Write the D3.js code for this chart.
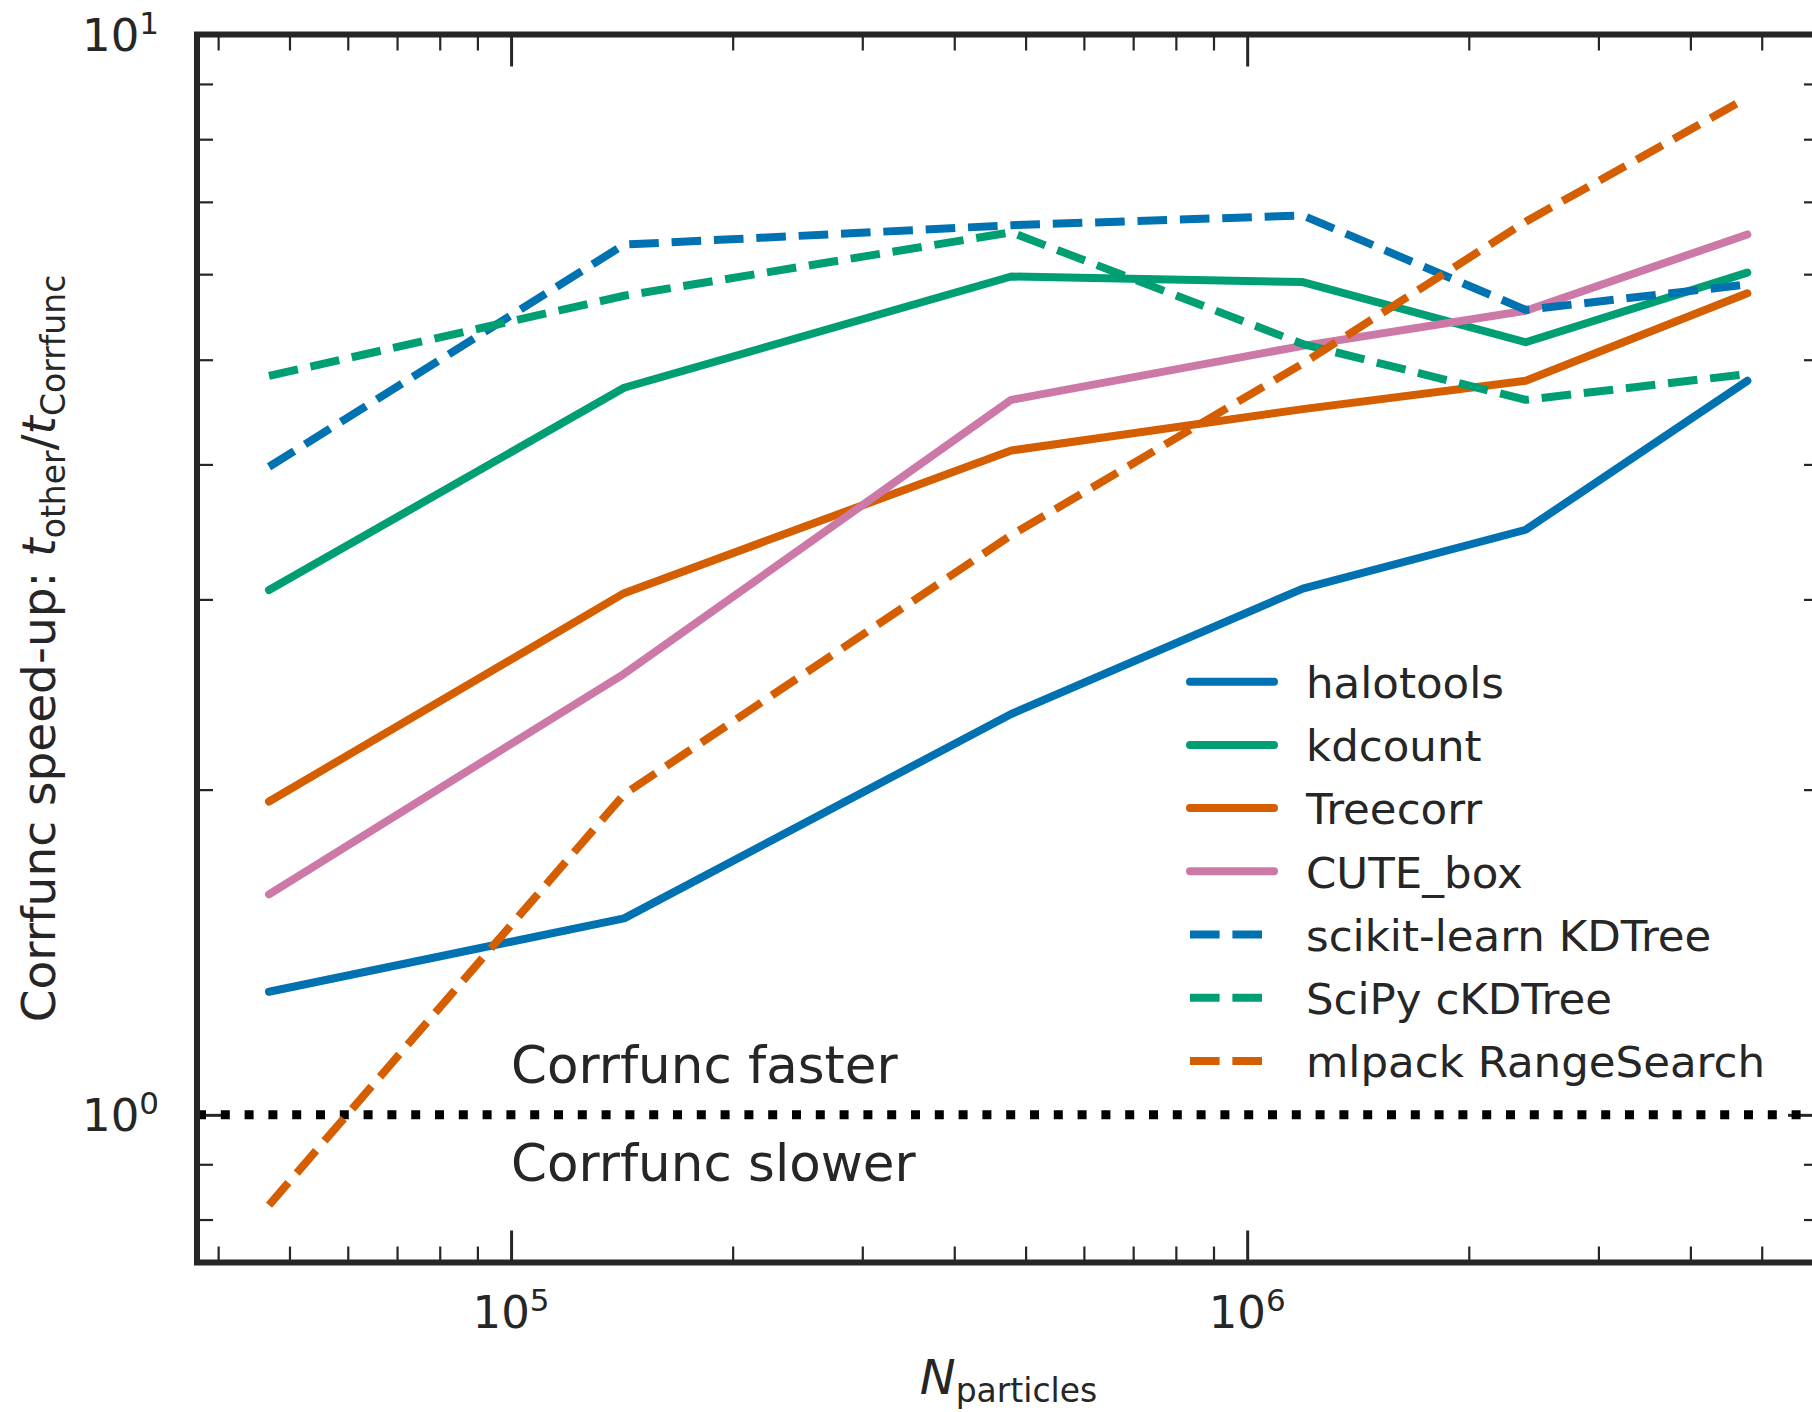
<!DOCTYPE html>
<html>
<head>
<meta charset="utf-8">
<script src="https://cdn.jsdelivr.net/npm/d3@7"></script>
<style>
  body { margin: 0; background: #fff; }
  text { font-family: "DejaVu Sans", sans-serif; fill: #262626; }
</style>
</head>
<body>
<div id="chart"></div>
<script>
// data
var nParticles = [46900, 142400, 478000, 1190000, 2390000, 4780000];
var halotools = [1.30, 1.52, 2.35, 3.07, 3.48, 4.78];
var kdcount   = [3.06, 4.71, 5.97, 5.90, 5.19, 6.02];
var treecorr  = [1.95, 3.04, 4.12, 4.50, 4.78, 5.76];
var cuteBox   = [1.60, 2.56, 4.59, 5.15, 5.55, 6.53];
var sklearnKD = [3.98, 6.39, 6.66, 6.80, 5.56, 5.87];
var scipyKD   = [4.83, 5.73, 6.56, 5.17, 4.59, 4.85];
var mlpack    = [0.825, 1.98, 3.44, 4.96, 6.71, 8.74];

var seriesNames = ["halotools", "kdcount", "Treecorr", "CUTE_box",
                   "scikit-learn KDTree", "SciPy cKDTree", "mlpack RangeSearch"];
var seriesValues = [halotools, kdcount, treecorr, cuteBox, sklearnKD, scipyKD, mlpack];

var xMajor = [1e5, 1e6];
var xMinor = [4e4, 5e4, 6e4, 7e4, 8e4, 9e4, 2e5, 3e5, 4e5, 5e5, 6e5, 7e5, 8e5, 9e5, 2e6, 3e6, 4e6, 5e6];
var yMajor = [1, 10];
var yMinor = [0.8, 0.9, 2, 3, 4, 5, 6, 7, 8, 9];

// styles
var colors = ["#0072B2", "#009E73", "#D55E00", "#CC79A7", "#0072B2", "#009E73", "#D55E00"];
var dashed = [false, false, false, false, true, true, true];
var lw = 8;
var ink = "#262626";

var W = 1812, H = 1412;
var pLeft = 197, pTop = 34.5, pRight = 1820, pBottom = 1262.5;

var svg = d3.select("#chart").append("svg")
    .attr("width", W)
    .attr("height", H);

var x = d3.scaleLog().domain([37440, 6e6]).range([pLeft, pRight]);
var y = d3.scaleLog().domain([0.73, 10]).range([pBottom, pTop]);

// ticks (all pointing inward)
function ticks(axis, tr, vals, size, width) {
  var g = svg.append("g")
    .attr("transform", tr)
    .call(axis.tickValues(vals).tickSize(size).tickFormat(""));
  g.select(".domain").remove();
  g.selectAll(".tick line").attr("stroke", ink).attr("stroke-width", width);
}
ticks(d3.axisBottom(x), "translate(0," + pBottom + ")", xMinor, -16, 2.2);
ticks(d3.axisBottom(x), "translate(0," + pBottom + ")", xMajor, -32, 3);
ticks(d3.axisTop(x), "translate(0," + pTop + ")", xMinor, -16, 2.2);
ticks(d3.axisTop(x), "translate(0," + pTop + ")", xMajor, -32, 3);
ticks(d3.axisLeft(y), "translate(" + pLeft + ",0)", yMinor, -16, 2.2);
ticks(d3.axisLeft(y), "translate(" + pLeft + ",0)", yMajor, -32, 3);
ticks(d3.axisRight(y), "translate(" + pRight + ",0)", yMinor, -16, 2.2);
ticks(d3.axisRight(y), "translate(" + pRight + ",0)", yMajor, -32, 3);

// tick labels 10^n
function powLabel(t, d) {
  t.append("tspan").text("10");
  t.append("tspan").attr("dy", -17).style("font-size", "31px").text(Math.round(Math.log10(d)));
}
svg.selectAll(".xlab")
  .data(xMajor)
  .enter()
  .append("text")
    .attr("x", function(d) { return x(d); })
    .attr("y", pBottom + 65.5)
    .attr("text-anchor", "middle")
    .style("font-size", "45px")
    .each(function(d) { powLabel(d3.select(this), d); });

svg.selectAll(".ylab")
  .data(yMajor)
  .enter()
  .append("text")
    .attr("x", pLeft - 38)
    .attr("y", function(d) { return y(d) + 16; })
    .attr("text-anchor", "end")
    .style("font-size", "45px")
    .each(function(d) { powLabel(d3.select(this), d); });

// reference line at speed-up = 1
svg.append("line")
  .attr("x1", pLeft).attr("x2", pRight)
  .attr("y1", y(1)).attr("y2", y(1))
  .attr("stroke", "#000")
  .attr("stroke-width", 9)
  .attr("stroke-dasharray", "9,14.8");

// series
var line = d3.line()
  .x(function(d, i) { return x(nParticles[i]); })
  .y(function(d) { return y(d); });

seriesValues.forEach(function(vals, k) {
  svg.append("path")
    .attr("d", line(vals))
    .attr("fill", "none")
    .attr("stroke", colors[k])
    .attr("stroke-width", lw)
    .attr("stroke-linejoin", "round")
    .attr("stroke-linecap", dashed[k] ? "butt" : "round")
    .attr("stroke-dasharray", dashed[k] ? (3.7 * lw) + "," + (1.6 * lw) : null);
});

// spines
svg.append("rect")
  .attr("x", pLeft).attr("y", pTop)
  .attr("width", pRight - pLeft).attr("height", pBottom - pTop)
  .attr("fill", "none")
  .attr("stroke", ink)
  .attr("stroke-width", 6);

// annotations
svg.append("text")
  .attr("x", x(1e5)).attr("y", y(1) - 32)
  .style("font-size", "51.5px")
  .text("Corrfunc faster");
svg.append("text")
  .attr("x", x(1e5)).attr("y", y(1) + 66)
  .style("font-size", "51.5px")
  .text("Corrfunc slower");

// legend
var legend = svg.append("g").attr("transform", "translate(1190,681.7)");
seriesNames.forEach(function(name, k) {
  var row = legend.append("g").attr("transform", "translate(0," + (k * 63.2) + ")");
  row.append("line")
    .attr("x1", 0).attr("x2", 84)
    .attr("y1", 0).attr("y2", 0)
    .attr("stroke", colors[k])
    .attr("stroke-width", lw)
    .attr("stroke-linecap", dashed[k] ? "butt" : "round")
    .attr("stroke-dasharray", dashed[k] ? (3.7 * lw) + "," + (1.6 * lw) : null);
  row.append("text")
    .attr("x", 116).attr("y", 16.3)
    .style("font-size", "43.5px")
    .text(name);
});

// axis labels
var xl = svg.append("text")
  .attr("x", (pLeft + pRight) / 2)
  .attr("y", 1394)
  .attr("text-anchor", "middle")
  .style("font-size", "48px");
xl.append("tspan").style("font-style", "italic").text("N");
xl.append("tspan").attr("dy", 8).style("font-size", "33px").text("particles");

var yl = svg.append("text")
  .attr("transform", "translate(55," + ((pTop + pBottom) / 2) + ") rotate(-90)")
  .attr("text-anchor", "middle")
  .style("font-size", "47px");
yl.append("tspan").text("Corrfunc speed-up: ");
yl.append("tspan").style("font-style", "italic").text("t");
yl.append("tspan").attr("dy", 10).style("font-size", "33px").text("other");
yl.append("tspan").attr("dy", -10).text("/");
yl.append("tspan").style("font-style", "italic").text("t");
yl.append("tspan").attr("dy", 10).style("font-size", "33px").text("Corrfunc");
</script>
</body>
</html>
